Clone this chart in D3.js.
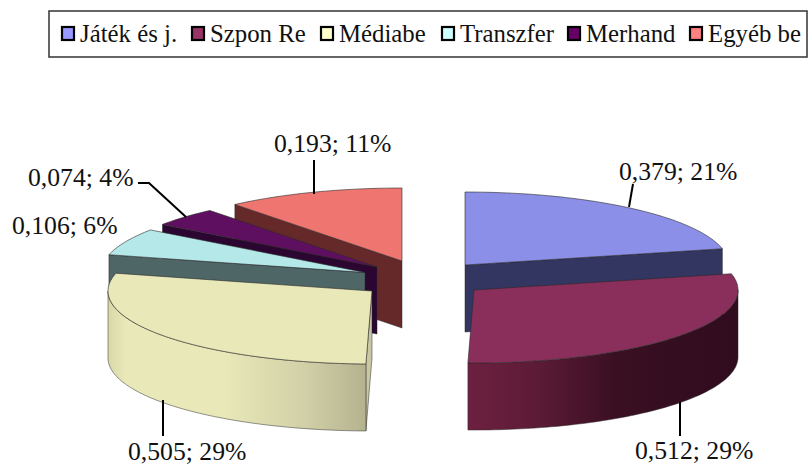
<!DOCTYPE html>
<html><head><meta charset="utf-8">
<script src="https://cdn.jsdelivr.net/npm/d3@7"></script>
<style>html,body{margin:0;background:#fff}svg{display:block}text{font-family:"Liberation Serif",serif;fill:#111}</style>
</head><body><svg id="c" width="808" height="466"></svg>
<script>
const categories=["Játék és j.","Szpon Re","Médiabe","Transzfer","Merhand","Egyéb be"];
const values=[0.379,0.512,0.505,0.106,0.074,0.193];
const percentLabels=["21%","29%","29%","6%","4%","11%"];
const topColors=["#8b8fe8","#8a2f5c","#e8e8b8","#b5e8e8","#5f0f5f","#ef7570"];
const wallColors=["#333660","#6d2040","#c9c8a4","#4f6666","#2b0630","#66292a"];
const legendColors=["#9999ff","#993366","#ffffcc","#ccffff","#660066","#ff8080"];
const legendX=[61,191,320,441,567,689];
const origins=[[465,265],[474,290],[372,291],[365,272.5],[377,267],[402,261]];
const drawOrder=[5,4,3,0,2,1];
const RX=264,RY=73,DEPTH=67;

const svg=d3.select("#c");
const defs=svg.append("defs");
const grad=(id,x1,x2,stops)=>{
  const g=defs.append("linearGradient").attr("id",id).attr("gradientUnits","userSpaceOnUse")
    .attr("x1",x1).attr("x2",x2).attr("y1",0).attr("y2",0);
  stops.forEach(([o,c])=>g.append("stop").attr("offset",o).attr("stop-color",c));
};
grad("g1",469,738,[[0,"#6d2040"],[.25,"#5c1b36"],[.55,"#3a0f22"],[1,"#300c1e"]]);
grad("g2",108,366,[[0,"#d9d8aa"],[.07,"#e8e8b8"],[.45,"#e8e8b8"],[.75,"#d2d1a8"],[1,"#b5b38f"]]);
const outerFill=[null,"url(#g1)","url(#g2)",null,null,null];

const pie=d3.pie().sort(null).startAngle(0).endAngle(2*Math.PI);
const arcs=pie(values);
const line=d3.line();
const rim=(c,a,dz=0)=>[c[0]+RX*Math.sin(a),c[1]-RY*Math.cos(a)+dz];
const sample=(a0,a1)=>{const n=Math.max(2,Math.ceil((a1-a0)/0.02));return d3.range(n+1).map(i=>a0+(a1-a0)*i/n);};

const g=svg.append("g");
drawOrder.forEach(i=>{
  const c=origins[i],a=arcs[i];
  const s=g.append("g");
  const edge="#2a2a2a";
  const wall=(ang)=>line([c,rim(c,ang),rim(c,ang,DEPTH),[c[0],c[1]+DEPTH]])+"Z";
  if(a.startAngle>Math.PI) s.append("path").attr("d",wall(a.startAngle)).attr("fill",wallColors[i]).attr("stroke",edge).attr("stroke-width",.5);
  if(a.endAngle<Math.PI) s.append("path").attr("d",wall(a.endAngle)).attr("fill",wallColors[i]).attr("stroke",edge).attr("stroke-width",.5);
  const lo=Math.max(a.startAngle,Math.PI/2),hi=Math.min(a.endAngle,3*Math.PI/2);
  if(hi>lo){
    const t=sample(lo,hi);
    const pts=t.map(x=>rim(c,x)).concat(t.slice().reverse().map(x=>rim(c,x,DEPTH)));
    s.append("path").attr("d",line(pts)+"Z").attr("fill",outerFill[i]||wallColors[i]).attr("stroke",edge).attr("stroke-width",.5);
  }
  const top=[c].concat(sample(a.startAngle,a.endAngle).map(x=>rim(c,x)));
  s.append("path").attr("d",line(top)+"Z").attr("fill",topColors[i]).attr("stroke",edge).attr("stroke-width",.6);
});

// leader lines and data labels
const leaders=[[[629,207],[633,184]],[[680,402],[680,436]],[[163,400],[163,436]],null,[[138,183],[149,183],[186,217]],[[314,194],[314,160]]];
const labelPos=[[619,180],[635,459],[128,460],[12,234],[28,186],[274,152]];
leaders.forEach(p=>{if(p)svg.append("path").attr("d",line(p)).attr("fill","none").attr("stroke","#000").attr("stroke-width",2);});
values.forEach((v,i)=>{
  svg.append("text").attr("x",labelPos[i][0]).attr("y",labelPos[i][1]).attr("font-size",25.7)
    .text(d3.format(".3f")(v).replace(".",",")+"; "+percentLabels[i]);
});

// legend
svg.append("rect").attr("x",49).attr("y",11).attr("width",758).attr("height",46).attr("fill","#fff").attr("stroke","#333").attr("stroke-width",1.5);
categories.forEach((n,i)=>{
  svg.append("rect").attr("x",legendX[i]+1).attr("y",27).attr("width",12).attr("height",13).attr("fill",legendColors[i]).attr("stroke","#000").attr("stroke-width",2.2);
  svg.append("text").attr("x",legendX[i]+19).attr("y",42).attr("font-size",24.8).text(n);
});
</script></body></html>
